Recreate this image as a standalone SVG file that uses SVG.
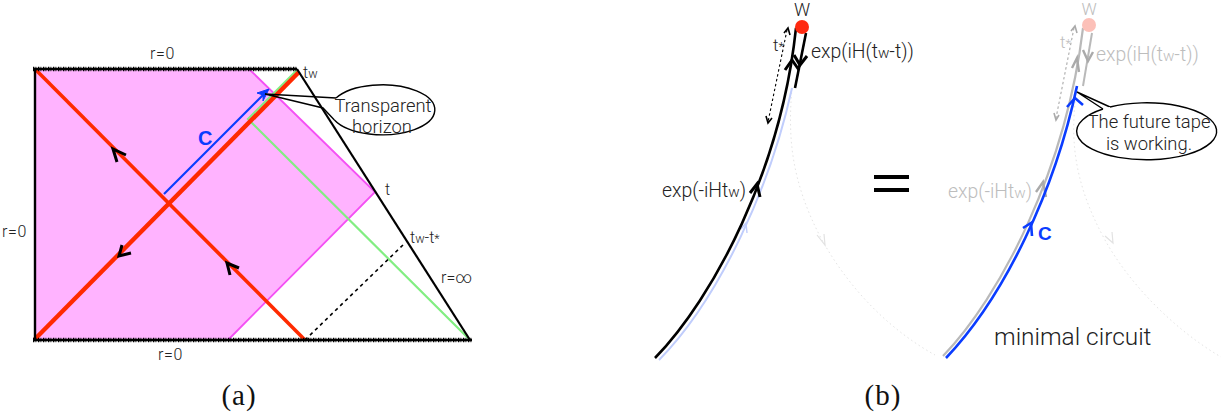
<svg xmlns="http://www.w3.org/2000/svg" width="1221" height="416" viewBox="0 0 1221 416">
<defs>
<style>
text{font-family:Roboto,"Liberation Sans",sans-serif;font-weight:300;fill:#222}
.cap{font-family:"Liberation Serif",serif;font-weight:400;font-size:29px;letter-spacing:1px;fill:#111}
.s14{font-size:16px}.s17{font-size:18.4px}.s19{font-size:19.4px}
.eq{letter-spacing:.6px}
.grey{fill:#bdbdbd}
.sub{font-size:.78em}
.bc{font-family:"Liberation Sans",sans-serif;font-weight:700;fill:#0a3cff}
.chev{fill:none;stroke:#000;stroke-width:3}
.zig{stroke:#000;stroke-width:2.4;fill:none}
.zigd{stroke:#000;stroke-width:4.6;stroke-dasharray:1.3 1.2 .8 1.7;fill:none}
.red{stroke:#ff2a00;fill:none}
.callout{fill:#fff;stroke:#000;stroke-width:1.4}
.tail{fill:none;stroke:#000;stroke-width:1.4}
.dash{fill:none;stroke:#000;stroke-width:1.6;stroke-dasharray:3.5 3.5}
.ghost{fill:none;stroke:#e4e4e4;stroke-width:1;stroke-dasharray:1.5 3}
.gchev{fill:none;stroke:#aaa;stroke-width:2.4}
.gfine{fill:none;stroke:#aaa;stroke-width:1.6}
.ghead{fill:none;stroke:#e2e2e2;stroke-width:1.2}
.fine{fill:none;stroke:#000;stroke-width:1.6}
.bchev{fill:none;stroke:#0a3cff;stroke-width:2.6}
</style>
</defs>
<rect width="1221" height="416" fill="#fff"/>
<g id="penrose-a">
<polygon points="35,69 249,69 375,192 228,340 35,340" fill="#ffb3ff"/>
</g>
<g id="connectors">
<polyline points="249,69 375,192 228,340" fill="none" stroke="#f450f4" stroke-width="1.8"/>
<polyline points="297,70 248,119 470,340" fill="none" stroke="#82ee82" stroke-width="2.2"/>
<line x1="35" y1="69" x2="305" y2="340" class="red" stroke-width="3.6"/>
<line x1="35" y1="339" x2="299" y2="72" class="red" stroke-width="4.4"/>
<line x1="164" y1="194" x2="266" y2="92" stroke="#0a3cff" stroke-width="2.2"/>
<polygon points="269,89 257,93 263,95 263,101" fill="#0a3cff" stroke="#0a3cff" stroke-width="1"/>
<line x1="35" y1="69" x2="35" y2="340" stroke="#000" stroke-width="2.4"/>
<line x1="297" y1="69" x2="470" y2="340" stroke="#000" stroke-width="2.2"/>
<line x1="33" y1="69" x2="297" y2="69" class="zig"/><line x1="33" y1="69" x2="297" y2="69" class="zigd"/>
<line x1="33" y1="340" x2="472" y2="340" class="zig"/><line x1="33" y1="340" x2="472" y2="340" class="zigd"/>
<line x1="305" y1="340" x2="405" y2="243" class="dash"/>
<polyline class="chev" points="117,162 113,149 126,155"/>
<polyline class="chev" points="122,245 119,256 131,253"/>
<polyline class="chev" points="230,275 227,263 239,268"/>
<path d="M792,88 C788,135 790,180 822,240 C850,290 890,330 935,355" class="ghost"/>
<polyline class="ghead" points="817,235 825,245 824,234"/>
<path d="M659,360 C720,298 771,185 792,88" fill="none" stroke="#c0cdfc" stroke-width="2"/>
<polyline points="741,229 746,223 747,233" fill="none" stroke="#c0cdfc" stroke-width="1.4"/>
<path d="M655,358 C714,297 781,170 796,28" fill="none" stroke="#000" stroke-width="2.6"/>
<line x1="806" y1="33" x2="795" y2="88" stroke="#000" stroke-width="2.6"/>
<polyline class="chev" points="785,70 792,60 799,70"/>
<polyline class="chev" points="794,55 800,65 807,56"/>
<polyline class="chev" points="750,193 757,184 760,197"/>
<line x1="787" y1="30" x2="768" y2="122" stroke="#000" stroke-width="1.1" stroke-dasharray="2.5 2.5"/>
<polyline class="fine" points="784,33 788,28 790,35"/>
<polyline class="fine" points="766,116 768,123 772,118"/>
<path d="M1077,88 C1070,135 1072,180 1105,240 C1130,285 1175,330 1221,357" class="ghost"/>
<polyline class="ghead" points="1105,236 1113,243 1112,232"/>
<path d="M943,356 C1000,297 1066,170 1083,28" fill="none" stroke="#b9b9b9" stroke-width="2.2"/>
<line x1="1092" y1="33" x2="1083" y2="86" stroke="#b9b9b9" stroke-width="2"/>
<polyline class="gchev" points="1072,68 1077,58 1079,72"/>
<polyline class="gchev" points="1083,50 1088,61 1093,52"/>
<polyline class="gchev" points="1036,192 1043,182 1046,197"/>
<line x1="1074" y1="28" x2="1056" y2="118" stroke="#aaa" stroke-width="1.1" stroke-dasharray="2.5 2.5"/>
<polyline class="gfine" points="1071,31 1075,26 1077,33"/>
<polyline class="gfine" points="1054,113 1056,120 1059,115"/>
<path d="M946,358 C1005,296 1055,190 1077,86" fill="none" stroke="#0a3cff" stroke-width="2.6"/>
<polyline class="bchev" points="1067,107 1075,98 1083,105"/>
<polyline class="bchev" points="1023,228 1031,223 1032,236"/>
</g>
<g id="callout-horizon">
<path class="callout" d="M336,98 A52.5,25 0 1 1 334.4,120"/>
<polyline class="tail" points="336,98 265,94 323,108 334.4,120"/>
<text class="s17" x="383" y="112" text-anchor="middle">Transparent</text>
<text class="s17" x="382" y="133" text-anchor="middle">horizon</text>
</g>
<g id="dot-w">
<circle cx="802" cy="27" r="7" fill="#ff2a10"/>
<text x="802" y="16" font-size="18" text-anchor="middle">W</text>
</g>
<g id="dot-w-ghost">
<circle cx="1089" cy="25" r="7" fill="#fcc0b8"/>
<text x="1089" y="15" font-size="17" text-anchor="middle" class="grey">W</text>
</g>
<g id="callout-tape">
<path class="tail" d="M1110,107 L1077,92 L1103,109"/>
<path d="M1110,107 A70,28.5 0 1 1 1103,109" class="callout"/>
<text class="s17" x="1149" y="128" text-anchor="middle">The future tape</text>
<text class="s17" x="1149" y="150" text-anchor="middle">is working.</text>
</g>
<g id="labels">
<text class="s14 eq" x="150" y="59">r=0</text>
<text class="s14 eq" x="2" y="237">r=0</text>
<text class="s14 eq" x="158" y="360">r=0</text>
<text class="s14" x="303" y="78">t<tspan class="sub">w</tspan></text>
<text class="s14" x="385" y="195">t</text>
<text class="s14" x="410" y="243">t<tspan class="sub">w</tspan>-t<tspan class="sub">*</tspan></text>
<text class="s14" x="441" y="283">r=∞</text>
<text x="198" y="145" font-size="20" class="bc">C</text>
<text class="s19" x="811" y="58">exp(iH(t<tspan class="sub">w</tspan>-t))</text>
<text class="s19" x="662" y="197">exp(-iHt<tspan class="sub">w</tspan>)</text>
<text font-size="17" x="773" y="51">t<tspan class="sub">*</tspan></text>
<text class="s19 grey" x="1096" y="61">exp(iH(t<tspan class="sub">w</tspan>-t))</text>
<text class="s19 grey" x="948" y="198">exp(-iHt<tspan class="sub">w</tspan>)</text>
<text font-size="17" x="1060" y="48" class="grey">t<tspan class="sub">*</tspan></text>
<text x="1038" y="240" font-size="19" class="bc">C</text>
<text x="994" y="345" font-size="24.4">minimal circuit</text>
<rect x="874" y="175" width="35" height="4" fill="#000"/>
<rect x="874" y="188" width="35" height="4" fill="#000"/>
<text class="cap" x="239" y="405" text-anchor="middle">(a)</text>
<text class="cap" x="883" y="405" text-anchor="middle">(b)</text>
</g>
</svg>
